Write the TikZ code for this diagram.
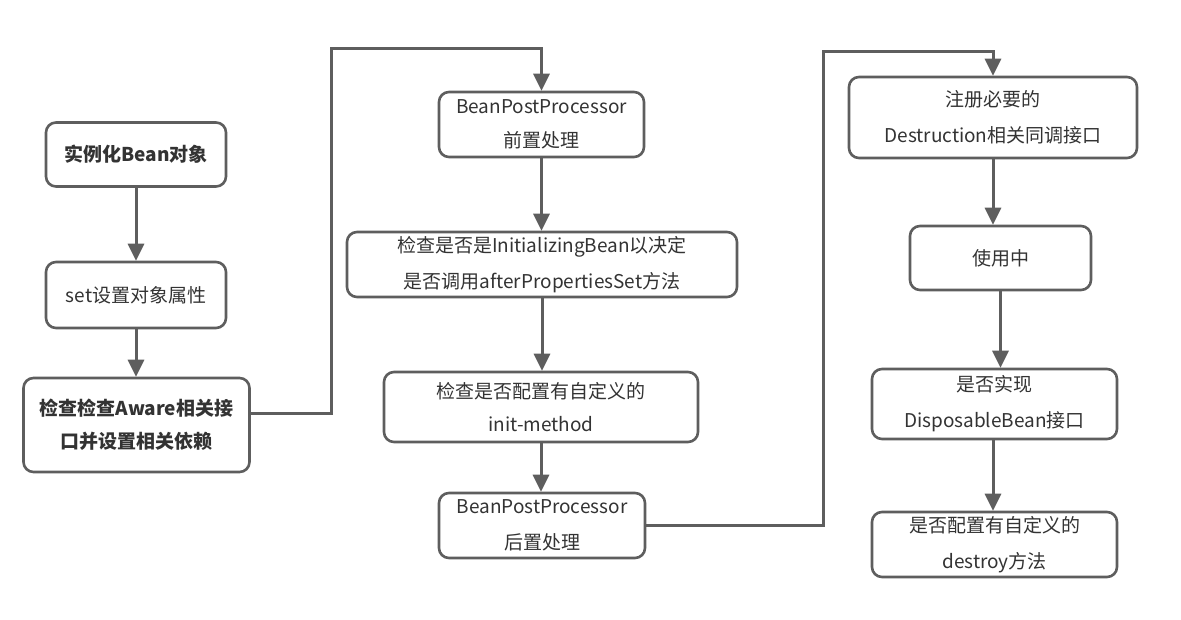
\documentclass[tikz,border=0pt]{standalone}
\usepackage{fontspec}
\setmainfont{Noto Sans CJK SC}
\usetikzlibrary{arrows.meta,calc}
\definecolor{edge}{HTML}{5E5E5E}
\definecolor{ink}{HTML}{333333}
\begin{document}
\begin{tikzpicture}[x=1pt,y=-1pt,
  stepbox/.style={draw=edge,line width=2.6pt,rounded corners=10pt,fill=white,
    inner sep=0pt,align=center,text=ink,font=\fontsize{19}{36}\selectfont},
  tight/.style={font=\fontsize{19}{33}\selectfont},
  conn/.style={draw=edge,line width=3pt,-{Triangle[length=17pt,width=16pt]}},
  wire/.style={draw=edge,line width=3pt}]
\useasboundingbox (0,0) rectangle (1181,620);
\fill[white] (0,0) rectangle (1181,620);

% left column
\node[stepbox,minimum width=180pt,minimum height=64pt] (n1) at (136,154.5)
  {\bfseries 实例化Bean对象};
\node[stepbox,minimum width=180pt,minimum height=66pt] (n2) at (136,295)
  {set设置对象属性};
\node[stepbox,tight,minimum width=226pt,minimum height=94pt] (n3) at (136.5,425)
  {\bfseries 检查检查Aware相关接\\\bfseries 口并设置相关依赖};

% middle column
\node[stepbox,minimum width=205pt,minimum height=65pt] (n4) at (541.5,124.5)
  {\raisebox{-2pt}{BeanPostProcessor}\\前置处理};
\node[stepbox,minimum width=390pt,minimum height=65pt] (n5) at (542,264.5)
  {检查是否是InitializingBean以决定\\是否调用afterPropertiesSet方法};
\node[stepbox,tight,minimum width=314pt,minimum height=70pt] (n6) at (541,407)
  {检查是否配置有自定义的\\init-method};
\node[stepbox,minimum width=206pt,minimum height=65pt] (n7) at (542,525.5)
  {BeanPostProcessor\\后置处理};

% right column
\node[stepbox,minimum width=288pt,minimum height=81pt] (n8) at (993,117.5)
  {注册必要的\\Destruction相关同调接口};
\node[stepbox,minimum width=181pt,minimum height=64pt] (n9) at (1000.5,258)
  {使用中};
\node[stepbox,minimum width=245pt,minimum height=70pt] (n10) at (994.5,404)
  {是否实现\\DisposableBean接口};
\node[stepbox,minimum width=245pt,minimum height=65pt] (n11) at (994.5,544.5)
  {是否配置有自定义的\\destroy方法};

% routing corners of the long connectors
\coordinate (c1) at (331.5,49);
\coordinate (c2) at (823.5,52);

% connectors
\draw[conn] (n1.south) -- (n2.north);
\draw[conn] (n2.south) -- (n2.south |- n3.north);
\draw[conn] ([yshift=12pt]n3.east) -| (c1) -| (n4.north);
\draw[conn] (n4.south) -- (n4.south |- n5.north);
\draw[conn] (n5.south) -- (n5.south |- n6.north);
\draw[conn] (n6.south) -- (n6.south |- n7.north);
\draw[conn] (n7.east) -| (c2) -| (n8.north);
\draw[conn] (n8.south) -- (n8.south |- n9.north);
\draw[conn] (n9.south) -- (n9.south |- n10.north);
\draw[conn] ([xshift=-1.5pt]n10.south) -- ([xshift=-1.5pt]n10.south |- n11.north);
\end{tikzpicture}
\end{document}
